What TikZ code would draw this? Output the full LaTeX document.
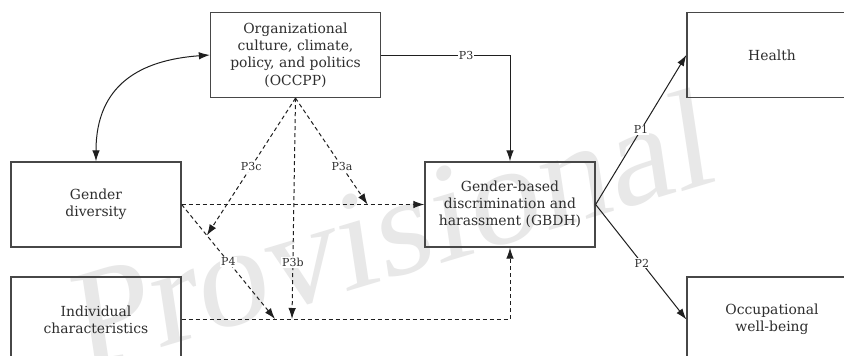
\documentclass[tikz,border=0pt]{standalone}
\usepackage{fontspec}
\setmainfont{DejaVu Serif}
\newfontfamily\wmfont{Liberation Serif}
\usetikzlibrary{arrows.meta,calc}
\tikzset{
  box/.style={draw=black!72, line width=1.3pt, minimum width=170pt, minimum height=85pt,
    align=center, inner sep=2pt, font=\fontsize{13.9}{17.3}\selectfont, text=black!82},
  conn/.style={line width=1.0pt, draw=black!88},
  arr/.style={-{Latex[length=11pt,width=7.5pt]}},
  biarr/.style={{Latex[length=11pt,width=7.5pt]}-{Latex[length=11pt,width=7.5pt]}},
  dsh/.style={dash pattern=on 4pt off 3pt},
  lbl/.style={fill=white, inner sep=1pt, font=\fontsize{11}{13}\selectfont, text=black!82},
}
\begin{document}
\begin{tikzpicture}[x=1pt,y=-1pt]
\useasboundingbox (0,0) rectangle (844,356);
\clip (0,0) rectangle (844,356);
\fill[white] (0,0) rectangle (844,356);
\node[cm={1,0.3,-0.15,1,(0,0)}, transform shape, anchor=base west, inner sep=0pt,
  text=black!9, font=\wmfont\fontsize{140}{140}\selectfont] (wm) at (80,372) {Provisional};

\node[box] (occ) at (295.5,55) {Organizational\\culture, climate,\\policy, and politics\\(OCCPP)};
\node[box] (health) at (772,55) {Health};
\node[box] (gd) at (96,204.5) {Gender\\diversity};
\node[box] (ic) at (96,319.5) {Individual\\characteristics};
\node[box] (gbdh) at (510,204.5) {Gender-based\\discrimination and\\harassment (GBDH)};
\node[box] (owb) at (772,319.5) {Occupational\\well-being};

\coordinate (p4end) at (275,319);
\coordinate (p3bend) at (292,319);
\coordinate (p3cend) at ($(gd.east)!0.27!(p4end)$);
\coordinate (p3aend) at ($(gd.east)!0.766!(gbdh.west)$);

\draw[conn,biarr] (occ.west) .. controls (140,60) and (96,85) .. (gd.north);
\draw[conn,arr] (occ.east) -| node[lbl,pos=0.33]{P3} (gbdh.north);
\draw[conn,arr] (gbdh.east) -- node[lbl]{P1} (health.west);
\draw[conn,arr] (gbdh.east) -- node[lbl,pos=0.51]{P2} (owb.west);

\draw[conn,dsh,arr] (gd.east) -- (gbdh.west);
\draw[conn,dsh,arr] (gd.east) -- node[lbl]{P4} (p4end);
\draw[conn,dsh,arr] (ic.east) -| (gbdh.south);
\draw[conn,dsh,arr] (occ.south) -- node[lbl,pos=0.5]{P3c} (p3cend);
\draw[conn,dsh,arr] (occ.south) -- node[lbl,pos=0.645]{P3a} (p3aend);
\draw[conn,dsh,arr] (occ.south) -- node[lbl,pos=0.745]{P3b} (p3bend);
\end{tikzpicture}
\end{document}
